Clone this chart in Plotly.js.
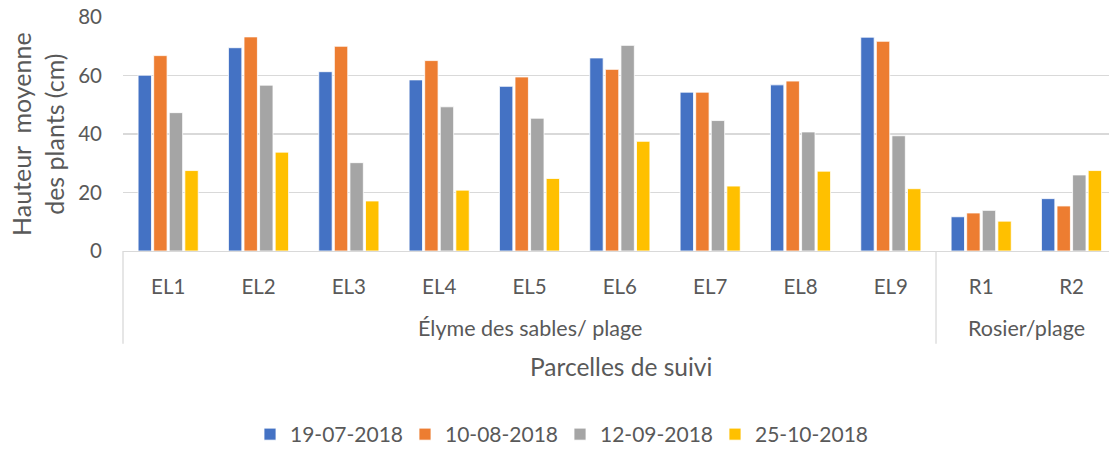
<!DOCTYPE html>
<html>
<head>
<meta charset="utf-8">
<script src="https://cdn.plot.ly/plotly-3.0.1.min.js"></script>
<style>
  html, body { margin: 0; padding: 0; background: #ffffff; }
  #chart { width: 1109px; height: 455px; }
</style>
</head>
<body>
<div id="chart"></div>
<script>
// ---- Data ----
const categories = ["EL1", "EL2", "EL3", "EL4", "EL5", "EL6", "EL7", "EL8", "EL9", "R1", "R2"];
const seriesNames = ["19-07-2018", "10-08-2018", "12-09-2018", "25-10-2018"];
const s19_07 = [60.1, 69.5, 61.3, 58.5, 56.3, 66.0, 54.3, 56.8, 73.1, 11.7, 17.9];
const s10_08 = [66.8, 73.2, 70.0, 65.1, 59.5, 62.1, 54.3, 58.1, 71.7, 13.0, 15.4];
const s12_09 = [47.3, 56.7, 30.2, 49.3, 45.4, 70.3, 44.6, 40.7, 39.4, 13.9, 26.0];
const s25_10 = [27.5, 33.8, 17.1, 20.8, 24.8, 37.5, 22.2, 27.3, 21.3, 10.2, 27.5];
const groupLabels = ["Élyme des sables/ plage", "Rosier/plage"];
const groupMembers = [["EL1","EL2","EL3","EL4","EL5","EL6","EL7","EL8","EL9"], ["R1","R2"]];
const yTicks = [0, 20, 40, 60, 80];
const yTitle = "Hauteur  moyenne<br>des plants (cm)";
const xTitle = "Parcelles de suivi";

// ---- Styles ----
const colors = ["#4472C4", "#ED7D31", "#A5A5A5", "#FFC000"];
const FONT = "Lato, 'Open Sans', sans-serif";
const TXT = "#595959";
const GRID = "#D9D9D9";

const allSeries = [s19_07, s10_08, s12_09, s25_10];
const traces = allSeries.map((vals, i) => ({
  type: "bar",
  name: seriesNames[i],
  x: categories,
  y: vals,
  marker: { color: colors[i], line: { color: "#ffffff", width: 0.8 } },
  hoverinfo: "x+y+name"
}));

// positions derived from category indices
const idx = c => categories.indexOf(c);
const groupCenters = groupMembers.map(m => (idx(m[0]) + idx(m[m.length - 1])) / 2);
const groupEnds = groupMembers.map(m => idx(m[m.length - 1]) + 0.5);

const plotH = 455 - 17 - 201;
const sepDepth = -(348 - 254) / plotH;

const shapes = [
  { type: "line", xref: "paper", yref: "paper", x0: 0, x1: 0, y0: 0, y1: sepDepth,
    line: { color: GRID, width: 1.3 } }
];
groupEnds.slice(0, -1).forEach(xe => {
  shapes.push({ type: "line", xref: "x", yref: "paper", x0: xe, x1: xe, y0: 0, y1: sepDepth,
    line: { color: GRID, width: 1.3 } });
});

const annotations = groupLabels.map((t, i) => ({
  text: t, xref: "x", yref: "paper", x: groupCenters[i], y: -(332 - 254) / plotH,
  xanchor: "center", yanchor: "middle", showarrow: false,
  font: { family: FONT, size: 21.5, color: TXT }
}));
annotations.push({
  text: xTitle, xref: "paper", yref: "paper", x: (621 - 123) / 986, y: -(371 - 254) / plotH,
  xanchor: "center", yanchor: "middle", showarrow: false,
  font: { family: FONT, size: 24.5, color: TXT }
});
annotations.push({
  text: yTitle, xref: "paper", yref: "paper", x: (37 - 123) / 986, y: 0.5,
  xanchor: "center", yanchor: "middle", showarrow: false, textangle: -90,
  font: { family: FONT, size: 25, color: TXT }
});

const layout = {
  width: 1109, height: 455,
  margin: { l: 123, r: 0, t: 17, b: 201, pad: 0 },
  paper_bgcolor: "#ffffff", plot_bgcolor: "#ffffff",
  font: { family: FONT, size: 20, color: TXT },
  barmode: "group",
  bargap: 0.31,
  bargroupgap: 0.14,
  showlegend: true,
  legend: {
    orientation: "h", x: (560 - 123) / 986, xanchor: "center", y: -(440 - 254) / plotH, yanchor: "middle",
    font: { family: FONT, size: 21, color: TXT },
    entrywidth: 110, entrywidthmode: "pixels", traceorder: "normal"
  },
  xaxis: {
    type: "category",
    range: [-0.5, 10.415],
    showgrid: false, zeroline: false,
    showline: true, linecolor: GRID, linewidth: 1.3,
    ticks: "", ticklabelstandoff: 17,
    tickfont: { family: FONT, size: 20.5, color: TXT },
    fixedrange: true
  },
  yaxis: {
    range: [0, 80],
    tickvals: yTicks,
    showgrid: true, gridcolor: GRID, gridwidth: 1.3,
    zeroline: false, showline: false,
    ticks: "", ticklabelstandoff: 20,
    tickfont: { family: FONT, size: 20.5, color: TXT },
    fixedrange: true
  },
  shapes: shapes,
  annotations: annotations
};

Plotly.newPlot("chart", traces, layout, { displayModeBar: false, staticPlot: true });
</script>
</body>
</html>
